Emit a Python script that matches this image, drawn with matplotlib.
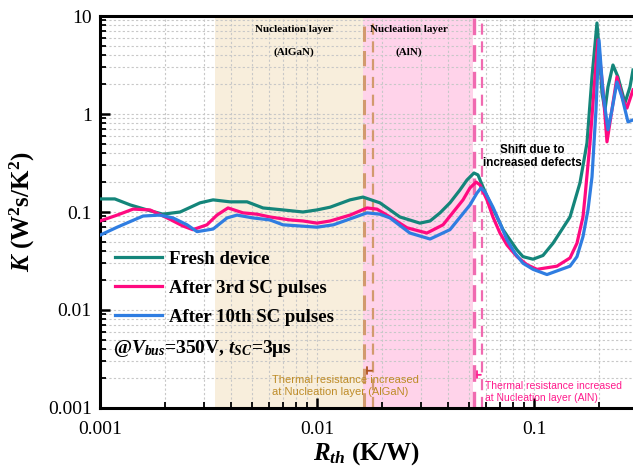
import matplotlib
matplotlib.use('Agg')
import matplotlib.pyplot as plt
from matplotlib.ticker import LogLocator, FixedLocator, FixedFormatter, NullFormatter

plt.rcParams['font.family'] = 'Liberation Serif'
plt.rcParams['mathtext.fontset'] = 'custom'
plt.rcParams['mathtext.rm'] = 'Liberation Serif:bold'
plt.rcParams['mathtext.it'] = 'Liberation Serif:bold:italic'
plt.rcParams['mathtext.bf'] = 'Liberation Serif:bold'

# Структурные функции (K от R_th), три состояния прибора
r_fresh = [0.001, 0.00117, 0.00138, 0.00165, 0.00195, 0.00234, 0.00289, 0.00332, 0.00397,
           0.00476, 0.00564, 0.00697, 0.00862, 0.0100, 0.0115, 0.0142, 0.0163, 0.0195,
           0.0217, 0.0241, 0.0298, 0.0332, 0.0369, 0.0410, 0.0456, 0.0491, 0.0529,
           0.0552, 0.0582, 0.0627, 0.0675, 0.0720, 0.0775, 0.0835, 0.0890, 0.0990,
           0.1100, 0.1224, 0.1466, 0.1629, 0.1755, 0.1851, 0.1910, 0.1951, 0.2014,
           0.2058, 0.2124, 0.2193, 0.2312, 0.2438, 0.2627, 0.2770, 0.2860]
k_fresh = [0.136, 0.136, 0.118, 0.105, 0.095, 0.100, 0.124, 0.133, 0.127,
           0.127, 0.110, 0.105, 0.100, 0.105, 0.112, 0.133, 0.142, 0.124,
           0.105, 0.089, 0.077, 0.081, 0.098, 0.124, 0.168, 0.212, 0.250,
           0.239, 0.180, 0.124, 0.089, 0.066, 0.052, 0.041, 0.035, 0.033,
           0.036, 0.048, 0.089, 0.198, 0.506, 2.39, 5.06, 8.48, 3.56,
           1.64, 1.10, 1.89, 3.16, 2.39, 1.30, 1.89, 2.81]

r_3rd = [0.001, 0.00120, 0.00142, 0.00170, 0.00204, 0.00241, 0.00268, 0.00311, 0.00346,
         0.00389, 0.00456, 0.00529, 0.00607, 0.00751, 0.00862, 0.0100, 0.0115, 0.0142,
         0.0170, 0.0189, 0.0217, 0.0260, 0.0321, 0.0381, 0.0471, 0.0507, 0.0541,
         0.0564, 0.0607, 0.0647, 0.0697, 0.0751, 0.0835, 0.0928, 0.1032, 0.1276,
         0.1466, 0.1578, 0.1682, 0.1718, 0.1812, 0.1910, 0.1972, 0.2080, 0.2170,
         0.2287, 0.2413, 0.2571, 0.2683, 0.2860]
k_3rd = [0.081, 0.093, 0.107, 0.105, 0.087, 0.072, 0.066, 0.074, 0.093,
         0.110, 0.098, 0.095, 0.089, 0.083, 0.081, 0.077, 0.081, 0.093,
         0.110, 0.107, 0.089, 0.069, 0.061, 0.074, 0.133, 0.176, 0.202,
         0.189, 0.133, 0.089, 0.061, 0.046, 0.035, 0.029, 0.026, 0.028,
         0.034, 0.048, 0.089, 0.142, 0.506, 2.39, 5.69, 1.76, 0.52,
         1.10, 2.39, 1.39, 1.15, 1.76]

r_10th = [0.001, 0.00120, 0.00158, 0.00189, 0.00217, 0.00252, 0.00280, 0.00332, 0.00385,
          0.00428, 0.00507, 0.00607, 0.00697, 0.00835, 0.0100, 0.0119, 0.0142, 0.0170,
          0.0195, 0.0217, 0.0268, 0.0332, 0.0410, 0.0507, 0.0546, 0.0570, 0.0595,
          0.0647, 0.0697, 0.0751, 0.0817, 0.0890, 0.0990, 0.1148, 0.1466, 0.1578,
          0.1682, 0.1774, 0.1851, 0.1931, 0.1994, 0.2080, 0.2193, 0.2287, 0.2413,
          0.2544, 0.2712, 0.2860]
k_10th = [0.058, 0.070, 0.091, 0.093, 0.087, 0.074, 0.063, 0.067, 0.087,
          0.093, 0.087, 0.083, 0.074, 0.072, 0.070, 0.074, 0.085, 0.098,
          0.095, 0.087, 0.061, 0.053, 0.066, 0.118, 0.156, 0.176, 0.160,
          0.112, 0.077, 0.052, 0.038, 0.030, 0.026, 0.023, 0.028, 0.035,
          0.056, 0.105, 0.228, 1.10, 5.69, 1.64, 0.69, 1.10, 2.12,
          1.49, 0.83, 0.87]

# границы областей зародышевого слоя
algan_span = (0.00339, 0.0163)
aln_span = (0.0163, 0.0524)
algan_shift = (0.0165, 0.0181)
aln_shift = (0.0530, 0.0575)

teal = '#14857A'
pink = '#FF0A80'
blue = '#2F7DE1'

fig = plt.figure(figsize=(6.33, 4.76), dpi=100)
ax = fig.add_axes([100 / 633, 68 / 476, 533 / 633, 392 / 476])

ax.axvspan(*algan_span, color='#F8EEDC', lw=0, zorder=0)
ax.axvspan(*aln_span, color='#FFD3EA', lw=0, zorder=0)

ax.axvline(algan_shift[0], color='#D29A6E', lw=2.2, ls=(0, (5, 3)), zorder=1)
ax.axvline(algan_shift[1], color='#D29A6E', lw=1.6, ls=(0, (5, 3)), zorder=1)
ax.axvline(aln_shift[0], color='#F06AB0', lw=2.4, ls=(0, (5, 3)), zorder=1)
ax.axvline(aln_shift[1], color='#F06AB0', lw=1.6, ls=(0, (5, 3)), zorder=1)

ax.plot(r_fresh, k_fresh, color=teal, lw=2.3, label='Fresh device', zorder=3)
ax.plot(r_3rd, k_3rd, color=pink, lw=2.3, label='After 3rd SC pulses', zorder=3)
ax.plot(r_10th, k_10th, color=blue, lw=2.3, label='After 10th SC pulses', zorder=3)

ax.set_xscale('log')
ax.set_yscale('log')
ax.set_xlim(0.001, 0.286)
ax.set_ylim(0.001, 10)

ax.xaxis.set_major_locator(FixedLocator([0.001, 0.01, 0.1]))
ax.xaxis.set_major_formatter(FixedFormatter(['0.001', '0.01', '0.1']))
ax.yaxis.set_major_locator(FixedLocator([0.001, 0.01, 0.1, 1, 10]))
ax.yaxis.set_major_formatter(FixedFormatter(['0.001', '0.01', '0.1', '1', '10']))
ax.xaxis.set_minor_locator(LogLocator(base=10, subs=range(2, 10)))
ax.yaxis.set_minor_locator(LogLocator(base=10, subs=range(2, 10)))
ax.xaxis.set_minor_formatter(NullFormatter())
ax.yaxis.set_minor_formatter(NullFormatter())

ax.tick_params(which='major', direction='in', length=7, width=1.8, labelsize=14, pad=9)
ax.tick_params(which='minor', direction='in', length=4, width=1.3)
ax.tick_params(axis='y', which='major', pad=6)

ax.set_axisbelow(True)
ax.grid(which='both', color='#C8C8C8', ls=(0, (2, 2)), lw=0.8)

for side in ['left', 'bottom', 'top']:
    ax.spines[side].set_linewidth(2.2)
ax.spines['right'].set_visible(False)

ax.set_xlabel(r'$R_{th}$ (K/W)', fontsize=18, fontweight='bold', labelpad=2)
ax.set_ylabel(r'$K$ (W$^2$s/K$^2$)', fontsize=18, fontweight='bold', labelpad=8)

ax.legend(loc='upper left', bbox_to_anchor=(0.0, 0.44), frameon=False,
          prop={'weight': 'bold', 'size': 13.5}, handlelength=2.5,
          handletextpad=0.4, labelspacing=0.64, borderpad=0.3)
ax.text(0.025, 0.153, r'@$V_{bus}$=350V, $t_{SC}$=3μs', transform=ax.transAxes,
        fontsize=14, fontweight='bold', va='center', ha='left')

# подписи слоёв
ax.text(0.0078, 7.2, 'Nucleation layer', fontsize=8, fontweight='bold', ha='center', va='center')
ax.text(0.0078, 4.3, '(AlGaN)', fontsize=8, fontweight='bold', ha='center', va='center')
ax.text(0.0265, 7.2, 'Nucleation layer', fontsize=8, fontweight='bold', ha='center', va='center')
ax.text(0.0265, 4.3, '(AlN)', fontsize=8, fontweight='bold', ha='center', va='center')

ax.text(0.098, 0.368, 'Shift due to\nincreased defects', fontsize=8.4, fontweight='bold',
        family='Liberation Sans', ha='center', va='center', linespacing=1.2)

ax.annotate('', xy=(algan_shift[0], 0.0024), xytext=(algan_shift[1] * 1.02, 0.0024),
            arrowprops=dict(arrowstyle='|-|,widthA=0,widthB=0.25', color='#B0521E', lw=1.3))
ax.annotate('', xy=(aln_shift[0], 0.00218), xytext=(aln_shift[1] * 1.02, 0.00218),
            arrowprops=dict(arrowstyle='|-|,widthA=0,widthB=0.25', color='#FF2090', lw=1.3))

ax.text(0.0062, 0.00168, 'Thermal resistance increased\nat Nucleation layer (AlGaN)',
        fontsize=8, family='Liberation Sans', color='#BE8C28', va='center', ha='left',
        linespacing=1.2)
ax.text(0.0595, 0.00145, 'Thermal resistance increased\nat Nucleation layer (AlN)',
        fontsize=7.5, family='Liberation Sans', color='#FF1A8C', va='center', ha='left',
        linespacing=1.25)

fig.savefig('out.png', dpi=100)
